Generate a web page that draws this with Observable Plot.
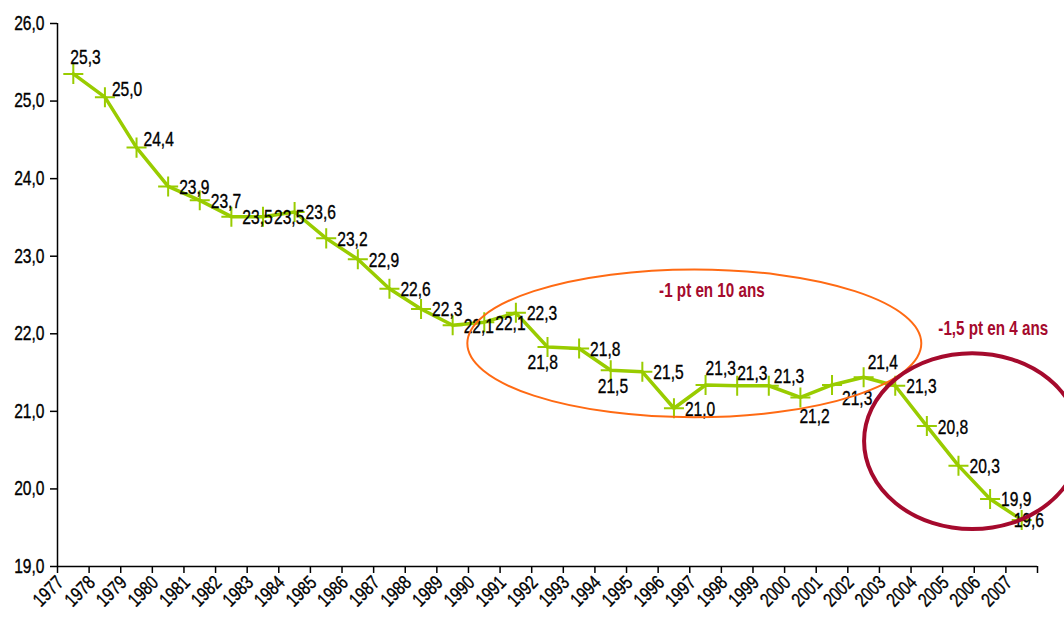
<!DOCTYPE html>
<html>
<head>
<meta charset="utf-8">
<script src="https://cdn.jsdelivr.net/npm/d3@7"></script>
<script src="https://cdn.jsdelivr.net/npm/@observablehq/plot@0.6"></script>
<style>
  html, body { margin: 0; padding: 0; background: #fff; }
  #chart svg { display: block; }
</style>
</head>
<body>
<div id="chart"></div>
<script>
// ---- data ----
const years = [1977,1978,1979,1980,1981,1982,1983,1984,1985,1986,1987,1988,1989,1990,1991,1992,1993,1994,1995,1996,1997,1998,1999,2000,2001,2002,2003,2004,2005,2006,2007];
const values = [25.35,25.05,24.40,23.90,23.72,23.51,23.51,23.57,23.23,22.96,22.58,22.32,22.11,22.15,22.27,21.83,21.81,21.53,21.51,21.04,21.34,21.33,21.33,21.18,21.34,21.44,21.33,20.81,20.30,19.87,19.60];
const valueLabels = ["25,3","25,0","24,4","23,9","23,7","23,5","23,5","23,6","23,2","22,9","22,6","22,3","22,1","22,1","22,3","21,8","21,8","21,5","21,5","21,0","21,3","21,3","21,3","21,2","21,3","21,4","21,3","20,8","20,3","19,9","19,6"];
const yTicks = [19,20,21,22,23,24,25,26];
const annotationTexts = ["-1 pt en 10 ans", "-1,5 pt en 4 ans"];
// annotation placement in data units (year, value)
const annotationTextAt = [[1997.2, 22.55], [2006.1, 22.07]];
const annotationEllipses = [
  {cx: 1996.66, cy: 21.87, rx: 7.18, ry: 0.953, color: "#ff6a13", width: 2},
  {cx: 2005.45, cy: 20.61, rx: 3.42, ry: 1.134, color: "#a50a2d", width: 4}
];

// label nudges (pixels) for particular years; default right of point
const defaultNudge = [11, 1];
const nudges = {
  1977: [-3, -16], 1978: [7, -8], 1979: [7, -8],
  1992: [-20, 16], 1994: [-13, 16], 1997: [0, -16], 1998: [0, -12],
  1999: [5, -9], 2000: [-1, 19], 2001: [10, 14], 2002: [4, -15], 2007: [-8, 1]
};

const data = years.map((y, i) => ({year: y, value: values[i], label: valueLabels[i]}));
const boundaries = years.map(y => y - 0.5).concat([years[years.length - 1] + 0.5]);

const FONT = "'Liberation Sans', Arial, sans-serif";
const NARROW = 0.78; // horizontal squeeze to imitate a narrow face
const GREEN = "#99cc00";
const RED = "#a50a2d";

// group labels by nudge
const groups = new Map();
for (const d of data) {
  const n = nudges[d.year] || defaultNudge;
  const k = n.join(",");
  if (!groups.has(k)) groups.set(k, {n, rows: []});
  groups.get(k).rows.push(d);
}
const labelMarks = [...groups.values()].map(g =>
  Plot.text(g.rows, {x: "year", y: "value", text: "label", dx: g.n[0], dy: g.n[1],
    textAnchor: "start", lineAnchor: "middle", fill: "#000", fontSize: 20})
);

const chart = Plot.plot({
  width: 1064,
  height: 621,
  marginTop: 23,
  marginLeft: 57,
  marginRight: 27,
  marginBottom: 55,
  style: {fontFamily: FONT, fontSize: "20px", color: "#000", background: "#fff"},
  x: {domain: [boundaries[0], boundaries[boundaries.length - 1]]},
  y: {domain: [19, 26]},
  marks: [
    Plot.axisY({ticks: yTicks, tickSize: 7, tickPadding: 6, tickFormat: d => d.toFixed(1).replace(".", ","), fontSize: 20, label: null, strokeWidth: 1.5}),
    Plot.axisX({ticks: boundaries, tickSize: 7, tickFormat: () => "", label: null, strokeWidth: 1.5}),
    Plot.axisX({ticks: years, tickSize: 0, tickRotate: -45, tickFormat: d => String(d), fontSize: 19.5, label: null, dx: -13, dy: 1}),
    Plot.ruleX([boundaries[0]], {stroke: "#000", strokeWidth: 1.5}),
    Plot.ruleY([19], {stroke: "#000", strokeWidth: 1.5}),
    Plot.line(data, {x: "year", y: "value", stroke: GREEN, strokeWidth: 3.5}),
    Plot.dot(data, {x: "year", y: "value", symbol: "plus", r: 6.5, stroke: GREEN, strokeWidth: 2}),
    ...labelMarks,
    Plot.text(annotationTexts.map((t, i) => ({t, x: annotationTextAt[i][0], y: annotationTextAt[i][1]})),
      {x: "x", y: "y", text: "t", fill: RED, fontWeight: "bold", fontSize: 19.5, textAnchor: "middle", lineAnchor: "middle"})
  ]
});

// squeeze glyphs horizontally about each text's own anchor, and thicken black text slightly
d3.select(chart).selectAll("text").each(function() {
  const t = this.getAttribute("transform");
  if (t && t.includes("translate")) this.setAttribute("transform", t + ` scale(${NARROW},1)`);
  const fill = this.getAttribute("fill") || (this.parentNode && this.parentNode.getAttribute("fill")) || "currentColor";
  if (fill !== RED) { this.setAttribute("stroke", fill); this.setAttribute("stroke-width", 0.35); }
});

// annotation ellipses drawn through the chart's own scales
const xs = chart.scale("x"), ys = chart.scale("y");
const X = xs.apply ? v => xs.apply(v) : v => Plot.scale({x: xs}).apply(v);
const Y = ys.apply ? v => ys.apply(v) : v => Plot.scale({y: ys}).apply(v);
const svg = d3.select(chart);
for (const e of annotationEllipses) {
  svg.append("ellipse")
    .attr("cx", X(e.cx)).attr("cy", Y(e.cy))
    .attr("rx", Math.abs(X(e.cx + e.rx) - X(e.cx)))
    .attr("ry", Math.abs(Y(e.cy + e.ry) - Y(e.cy)))
    .attr("fill", "none").attr("stroke", e.color).attr("stroke-width", e.width);
}
document.getElementById("chart").appendChild(chart);
</script>
</body>
</html>
